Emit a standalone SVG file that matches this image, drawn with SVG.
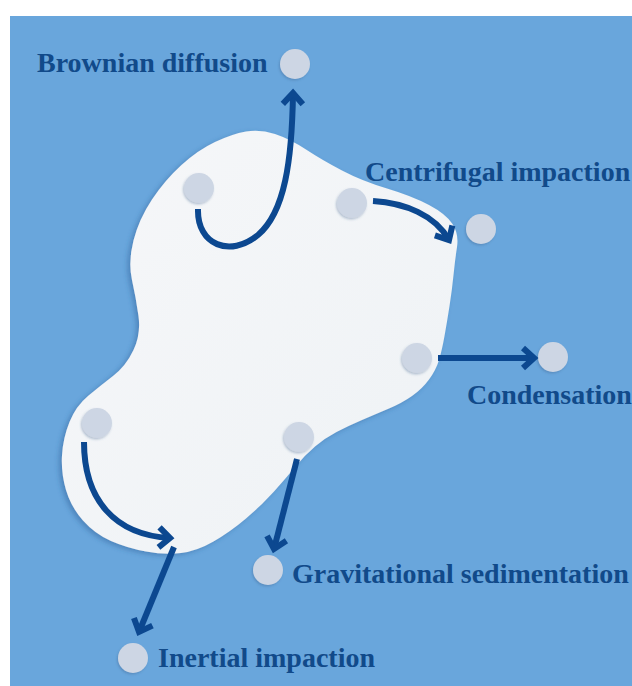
<svg xmlns="http://www.w3.org/2000/svg" width="632" height="686" viewBox="0 0 632 686">
<style>
.lbl{font-family:"Liberation Serif","Times New Roman",serif;font-weight:bold;font-size:28px;fill:#114a8a}
.p{fill:#cdd6e4;filter:url(#ps)}
.arr{fill:none;stroke:#0c4890;stroke-width:6;marker-end:url(#chev)}
</style>
<defs>
<filter id="bs" x="-10%" y="-10%" width="120%" height="120%">
<feDropShadow dx="-3" dy="2" stdDeviation="2.5" flood-color="#2c5e97" flood-opacity="0.45"/>
</filter>
<filter id="ps" x="-30%" y="-30%" width="160%" height="160%">
<feDropShadow dx="-1" dy="1.5" stdDeviation="1" flood-color="#3a5f8a" flood-opacity="0.35"/>
</filter>
<linearGradient id="bg" x1="0" y1="0" x2="1" y2="1">
<stop offset="0" stop-color="#f6f7f9"/>
<stop offset="1" stop-color="#eef2f5"/>
</linearGradient>
<marker id="chev" markerUnits="userSpaceOnUse" markerWidth="30" markerHeight="30" refX="13" refY="12" orient="auto" overflow="visible">
<path d="M2,2 L13,12 L2,22" fill="none" stroke="#0c4890" stroke-width="6"/>
</marker>
</defs>
<rect x="10" y="16" width="622" height="670" fill="#69a6dc"/>
<g id="airflow">
<path filter="url(#bs)" fill="url(#bg)" d="M246,131.5 Q260,129 275,134 Q290,139 306,149.5 Q322,160 342,170.5 Q362,181 387,188.5 Q412,196 429,205 Q446,214 452.5,224 Q459,234 457,247 Q455,260 453.5,275 Q452,290 449.5,306 Q447,322 444.5,336 Q442,350 439,360 Q436,370 429,379.5 Q422,389 412,396 Q402,403 389,408.5 Q376,414 362,420 Q348,426 336.5,432 Q325,438 315,446.5 Q305,455 295.5,466.5 Q286,478 274,491.5 Q262,505 246,518.5 Q230,532 213.5,541.5 Q197,551 181,553 Q165,555 146,551.5 Q127,548 111,541 Q95,534 83,520.5 Q71,507 66,490 Q61,473 62,455.5 Q63,438 69.5,422 Q76,406 88,396 Q100,386 113,376 Q126,366 133.5,350 Q141,334 138.5,316 Q136,298 132,280 Q128,262 133.5,240.5 Q139,219 152,199.5 Q165,180 181.5,165 Q198,150 215,142 Q232,134 246,131.5 Z"/>
</g>
<g id="brownian">
<circle class="p" cx="199" cy="188" r="15"/>
<circle class="p" cx="295" cy="64" r="15"/>
<text class="lbl" x="37" y="72">Brownian diffusion</text>
</g>
<g id="centrifugal">
<circle class="p" cx="352" cy="203" r="15"/>
<circle class="p" cx="481" cy="229" r="15"/>
<text class="lbl" x="365" y="181">Centrifugal impaction</text>
</g>
<g id="condensation">
<circle class="p" cx="417" cy="358" r="15"/>
<circle class="p" cx="553" cy="357" r="15"/>
<text class="lbl" x="467" y="404">Condensation</text>
</g>
<g id="gravitational">
<circle class="p" cx="299" cy="437" r="15"/>
<circle class="p" cx="268" cy="570" r="15"/>
<text class="lbl" x="292" y="583">Gravitational sedimentation</text>
</g>
<g id="inertial">
<circle class="p" cx="97" cy="423" r="15"/>
<circle class="p" cx="133" cy="658" r="15"/>
<text class="lbl" x="158" y="667">Inertial impaction</text>
</g>
<g id="connectors">
<path class="arr" d="M198,209 C197,245 230,258 258,235 C285,212 292,160 293,93"/>
<path class="arr" d="M373,201 C405,203 435,215 449,240"/>
<path class="arr" d="M438,358 L534,358"/>
<path class="arr" d="M297,459 L274,549"/>
<path class="arr" d="M84,442 C84,500 115,535 170,538"/>
<path class="arr" d="M174,547 L139,632"/>
</g>
</svg>
